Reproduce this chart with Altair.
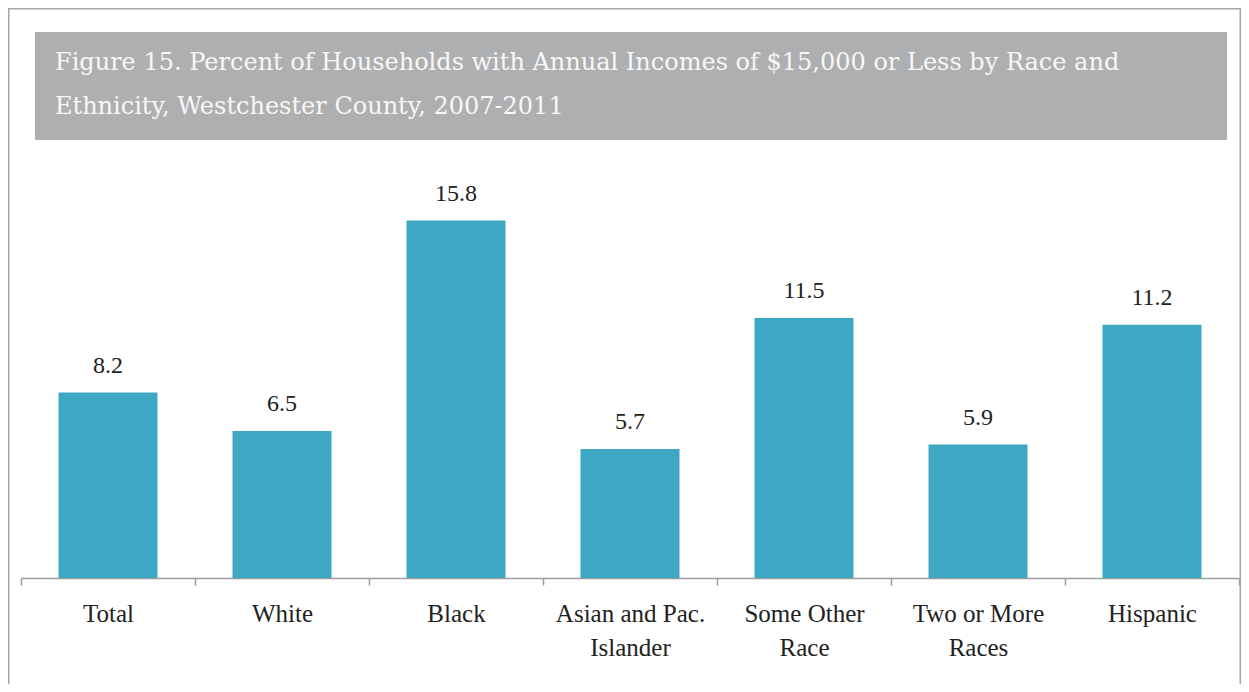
import altair as alt
import pandas as pd

# ---- data ----
axis_labels = ["Total", "White", "Black", "Asian and Pac.|Islander",
               "Some Other|Race", "Two or More|Races", "Hispanic"]
values = [8.2, 6.5, 15.8, 5.7, 11.5, 5.9, 11.2]
title_line1 = ["Figure 15. Percent of Households with Annual Incomes of $15,000 or Less by Race and"]
title_line2 = ["Ethnicity, Westchester County, 2007-2011"]

FONT = "Liberation Serif"
TFONT = "DejaVu Serif"
BAR = "#3EA8C4"
GREY_LINE = "#9c9c9c"

df = pd.DataFrame({"label": axis_labels, "value": values})

x_enc = alt.X(
    "label:N", sort=axis_labels, title=None,
    scale=alt.Scale(paddingInner=0, paddingOuter=0),
    axis=alt.Axis(
        labelExpr="split(datum.label, '|')", labelAngle=0, labelFont=FONT,
        labelFontSize=25, labelColor="#222222", labelLineHeight=34,
        labelPadding=16, labelBaseline="top",
        tickBand="extent", tickSize=7, tickColor=GREY_LINE, tickWidth=1.5,
        domainColor=GREY_LINE, domainWidth=1.5, grid=False,
    ),
)
y_enc = alt.Y("value:Q", scale=alt.Scale(domain=[0, 16.8], nice=False), axis=None)

one = alt.Data(values=[{}])

border = alt.Chart(one).mark_rect(fill="white", fillOpacity=0, stroke="#a6a6a6", strokeWidth=1.5).encode(
    x=alt.value(-12.25), x2=alt.value(1219.25), y=alt.value(-189.25), y2=alt.value(600)
)
title_box = alt.Chart(one).mark_rect(fill="#AEAFB1").encode(
    x=alt.value(14), x2=alt.value(1206), y=alt.value(-166), y2=alt.value(-58)
)
t1 = alt.Chart(pd.DataFrame({"t": title_line1})).mark_text(
    font=TFONT, fontSize=24, color="#F7F7F7", align="left", baseline="alphabetic"
).encode(x=alt.value(34), y=alt.value(-128), text="t:N")
t2 = alt.Chart(pd.DataFrame({"t": title_line2})).mark_text(
    font=TFONT, fontSize=24, color="#F7F7F7", align="left", baseline="alphabetic"
).encode(x=alt.value(34), y=alt.value(-84), text="t:N")

bars = alt.Chart(df).mark_bar(color=BAR, width=alt.RelativeBandSize(0.569)).encode(x=x_enc, y=y_enc)
labels = alt.Chart(df).mark_text(
    font=FONT, fontSize=24, dy=-20, baseline="alphabetic", color="#222222"
).encode(x=alt.X("label:N", sort=axis_labels), y="value:Q",
         text=alt.Text("value:Q", format=".1f"))

chart = alt.layer(border, title_box, t1, t2, bars, labels).properties(
    width=1218, height=380,
    autosize=alt.AutoSizeParams(type="none"),
    padding={"left": 13, "top": 190, "right": 2, "bottom": 106},
).configure_view(stroke=None)

chart.save("out.html", embed_options={"renderer": "svg", "actions": False})
